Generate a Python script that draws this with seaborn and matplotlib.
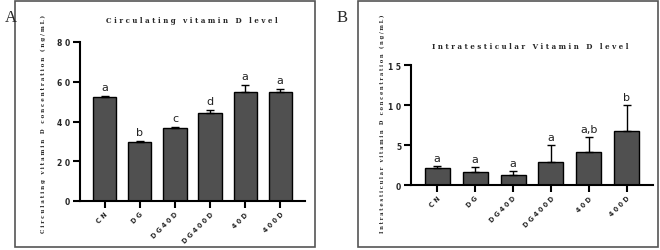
import numpy as np
import pandas as pd
import matplotlib
matplotlib.use('Agg')
import matplotlib.pyplot as plt
import seaborn as sns
from matplotlib.patches import Rectangle

# 그룹 이름과 값
groups = ['CN', 'DG', 'DG40D', 'DG400D', '40D', '400D']
circ_mean = [52.4, 29.6, 36.6, 44.2, 54.9, 54.6]
circ_err = [0.6, 0.5, 0.5, 1.4, 3.5, 1.8]
circ_letters = ['a', 'b', 'c', 'd', 'a', 'a']
intra_mean = [2.15, 1.6, 1.25, 2.9, 4.1, 6.8]
intra_err = [0.25, 0.65, 0.5, 2.1, 1.9, 3.2]
intra_letters = ['a', 'a', 'a', 'a', 'a,b', 'b']


def spaced(s):
    return ' '.join(s)


sns.set_theme(style='ticks')
plt.rcParams['font.family'] = ['DejaVu Sans']

fig = plt.figure(figsize=(6.6, 2.51), dpi=100)

# 패널 테두리
for x0, w in [(15 / 660, 300 / 660), (358 / 660, 300 / 660)]:
    fig.patches.append(Rectangle((x0, 3 / 251), w, 246 / 251, transform=fig.transFigure,
                                 fill=False, edgecolor='#555555', linewidth=1.2))

fig.text(5 / 660, 1 - 18 / 251, 'A', fontsize=12, family='Liberation Serif', va='center')
fig.text(337 / 660, 1 - 18 / 251, 'B', fontsize=12, family='Liberation Serif', va='center')


def panel(rect, mean, err, letters, ymax, yticks, title, ylabel, xoff, title_xy, ylab_x, ylab_size, letter_pad):
    ax = fig.add_axes(rect)
    df = pd.DataFrame({'group': groups, 'value': mean})
    sns.barplot(data=df, x='group', y='value', color='#505050', edgecolor='black',
                linewidth=1.0, width=0.66, saturation=1, ax=ax)
    x = np.arange(len(groups))
    ax.errorbar(x, mean, yerr=[np.zeros(len(err)), err], fmt='none', ecolor='black',
                elinewidth=1.0, capsize=3, capthick=1.0)
    for xi, m, e, lab in zip(x, mean, err, letters):
        ax.text(xi, m + e + letter_pad, lab, ha='center', va='bottom', fontsize=8, color='#222222')
    ax.set_xlim(-xoff, len(groups) - 1 + xoff)
    ax.set_ylim(0, ymax)
    ax.set_yticks(yticks)
    ax.set_yticklabels([spaced(str(t)) for t in yticks], fontsize=5.5, fontweight='bold')
    ax.set_xticks(x)
    ax.set_xticklabels([spaced(g) for g in groups], rotation=45, ha='right',
                       rotation_mode='anchor', fontsize=4.7, fontweight='bold')
    ax.set_xlabel('')
    ax.set_ylabel('')
    sns.despine(ax=ax)
    for s in ['left', 'bottom']:
        ax.spines[s].set_linewidth(1.5)
        ax.spines[s].set_color('black')
    ax.tick_params(axis='both', direction='out', length=5, width=1.5, color='black', pad=2)
    fig.text(title_xy[0], title_xy[1], spaced(title), ha='center', va='center',
             fontsize=5.0, fontweight='bold', family='DejaVu Serif')
    fig.text(ylab_x, 1 - 124 / 251, spaced(ylabel), rotation=90, ha='center', va='center',
             fontsize=ylab_size, fontweight='bold', family='DejaVu Serif')
    return ax


panel([80 / 660, 1 - 202 / 251, 225 / 660, 159 / 251], circ_mean, circ_err, circ_letters,
      80, [0, 20, 40, 60, 80], 'Circulating vitamin D level',
      'Circulating vitamin D concentration (ng/mL)', 0.71, (192 / 660, 1 - 21 / 251), 43 / 660, 4.0, 2.0)

panel([411 / 660, 1 - 186 / 251, 242 / 660, 120 / 251], intra_mean, intra_err, intra_letters,
      15, [0, 5, 10, 15], 'Intratesticular Vitamin D level',
      'Intratesticular vitamin D concentration (ng/mL)', 0.69, (530 / 660, 1 - 47 / 251), 382 / 660, 3.7, 0.4)

fig.savefig('out.png', dpi=100)
